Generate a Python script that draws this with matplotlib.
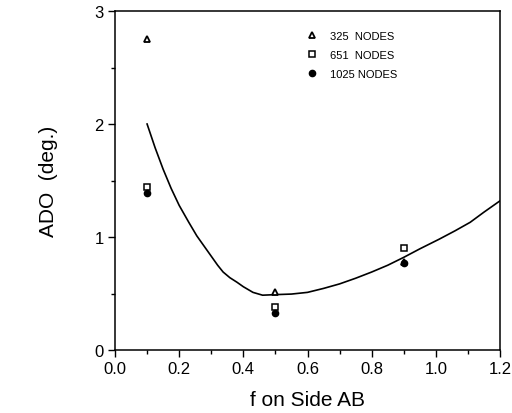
import matplotlib
matplotlib.use("Agg")
import matplotlib.pyplot as plt
from matplotlib.ticker import MultipleLocator, FormatStrFormatter

plt.rcParams['font.family'] = ['Liberation Sans', 'DejaVu Sans']

f_vals = [0.1, 0.5, 0.9]
ado_325 = [2.75, 0.51, 0.78]
ado_651 = [1.44, 0.38, 0.90]
ado_1025 = [1.39, 0.33, 0.77]

curve_x = [0.10, 0.125, 0.15, 0.175, 0.20, 0.23, 0.255, 0.28, 0.30, 0.32, 0.337, 0.358,
           0.38, 0.40, 0.43, 0.46, 0.50, 0.55, 0.60, 0.65, 0.70, 0.75, 0.80, 0.85,
           0.90, 0.95, 1.01, 1.06, 1.107, 1.15, 1.20]
curve_y = [2.00, 1.79, 1.60, 1.43, 1.28, 1.13, 1.01, 0.91, 0.83, 0.75, 0.69, 0.64,
           0.60, 0.56, 0.51, 0.485, 0.49, 0.495, 0.51, 0.545, 0.585, 0.635, 0.69, 0.75,
           0.82, 0.895, 0.98, 1.055, 1.13, 1.22, 1.32]

fig = plt.figure(figsize=(5.12, 4.14), dpi=100)
ax = fig.add_axes([115/512, 1 - 351/414, 385/512, 339/414])

ax.plot(curve_x, curve_y, color='black', lw=1.2)
ax.plot(f_vals, ado_325, linestyle='none', marker='^', ms=4.5, mfc='white', mec='black', mew=1.3, label='325  NODES')
ax.plot(f_vals, ado_651, linestyle='none', marker='s', ms=4.5, mfc='white', mec='black', mew=1.1, label='651  NODES')
ax.plot(f_vals, ado_1025, linestyle='none', marker='o', ms=4.5, mfc='black', mec='black', label='1025 NODES')

ax.set_xlim(0, 1.2)
ax.set_ylim(0, 3)
ax.xaxis.set_major_locator(MultipleLocator(0.2))
ax.xaxis.set_minor_locator(MultipleLocator(0.1))
ax.yaxis.set_major_locator(MultipleLocator(1))
ax.yaxis.set_minor_locator(MultipleLocator(0.5))
ax.xaxis.set_major_formatter(FormatStrFormatter('%.1f'))
ax.yaxis.set_major_formatter(FormatStrFormatter('%d'))
ax.tick_params(which='major', direction='out', length=5, width=1, labelsize=12, pad=3)
ax.tick_params(which='minor', direction='out', length=3, width=1)
for s in ax.spines.values():
    s.set_linewidth(1.1)

ax.set_xlabel('f on Side AB', fontsize=15, labelpad=10)
ax.set_ylabel('ADO  (deg.)', fontsize=15, labelpad=26)

ax.legend(loc='upper left', bbox_to_anchor=(0.47, 0.97), frameon=False, fontsize=8,
          handletextpad=1.2, labelspacing=0.8, handlelength=1.0)

fig.savefig('out.png', dpi=100)
